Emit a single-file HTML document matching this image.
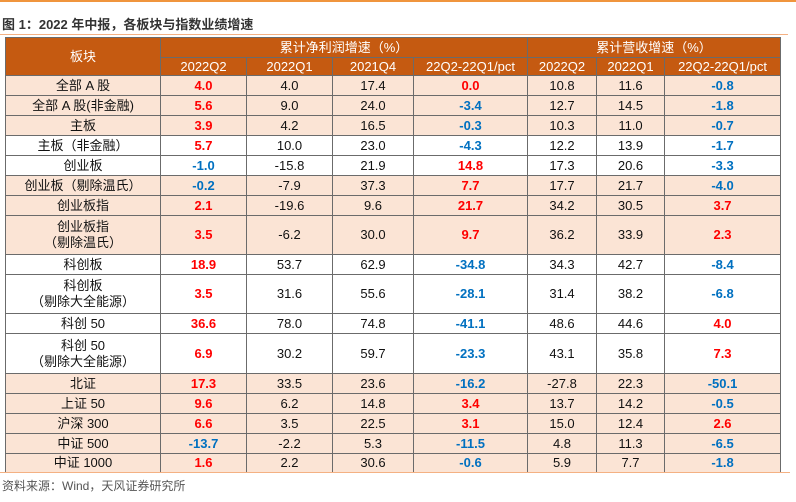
<!DOCTYPE html>
<html><head><meta charset="utf-8">
<style>
body{margin:0;width:796px;height:502px;background:#fff;position:relative;overflow:hidden;font-family:"Liberation Sans","Noto Sans CJK SC",sans-serif;}
.topline{position:absolute;left:0;top:0;width:796px;height:2px;background:#f0953e;}
.title{position:absolute;left:2px;top:14px;font-size:13px;font-weight:bold;color:#333;}
.tline{position:absolute;left:0;top:34px;width:788px;height:1px;background:#f4b183;}
table{position:absolute;left:5px;top:37px;border-collapse:collapse;table-layout:fixed;width:775px;font-size:13px;}
td{border:1px solid #6b6b6b;text-align:center;padding:0;line-height:16px;color:#111;}
tr.h td{background:#c55a11;color:#fff;}
tr.p td{background:#fbe4d5;}
tr.w td{background:#fff;}
.r{color:#ff0000;font-weight:bold;}
.b{color:#0070c0;font-weight:bold;}
.src{position:absolute;left:2px;top:477px;font-size:12px;color:#555;}
.bline{position:absolute;left:0;top:472px;width:790px;height:1px;background:#f4b183;}
</style></head><body>
<div class="topline"></div>
<div class="title">图 1：2022 年中报，各板块与指数业绩增速</div>
<div class="tline"></div>
<table>
<colgroup><col style="width:155px"><col style="width:86px"><col style="width:86px"><col style="width:81px"><col style="width:114px"><col style="width:69px"><col style="width:68px"><col style="width:116px"></colgroup>
<tbody id="tb">
<tr class="h" style="height:20px"><td rowspan="2">板块</td><td colspan="4">累计净利润增速（%）</td><td colspan="3">累计营收增速（%）</td></tr>
<tr class="h" style="height:18px"><td>2022Q2</td><td>2022Q1</td><td>2021Q4</td><td>22Q2-22Q1/pct</td><td>2022Q2</td><td>2022Q1</td><td>22Q2-22Q1/pct</td></tr>
</tbody></table>
<div class="bline"></div>
<div class="src">资料来源：Wind，天风证券研究所</div>
<script>
const names=["全部 A 股","全部 A 股(非金融)","主板","主板（非金融）","创业板","创业板（剔除温氏）","创业板指","创业板指<br>（剔除温氏）","科创板","科创板<br>（剔除大全能源）","科创 50","科创 50<br>（剔除大全能源）","北证","上证 50","沪深 300","中证 500","中证 1000"];
const profitQ2=["4.0","5.6","3.9","5.7","-1.0","-0.2","2.1","3.5","18.9","3.5","36.6","6.9","17.3","9.6","6.6","-13.7","1.6"];
const profitQ1=["4.0","9.0","4.2","10.0","-15.8","-7.9","-19.6","-6.2","53.7","31.6","78.0","30.2","33.5","6.2","3.5","-2.2","2.2"];
const profit4=["17.4","24.0","16.5","23.0","21.9","37.3","9.6","30.0","62.9","55.6","74.8","59.7","23.6","14.8","22.5","5.3","30.6"];
const profitD=["0.0","-3.4","-0.3","-4.3","14.8","7.7","21.7","9.7","-34.8","-28.1","-41.1","-23.3","-16.2","3.4","3.1","-11.5","-0.6"];
const revQ2=["10.8","12.7","10.3","12.2","17.3","17.7","34.2","36.2","34.3","31.4","48.6","43.1","-27.8","13.7","15.0","4.8","5.9"];
const revQ1=["11.6","14.5","11.0","13.9","20.6","21.7","30.5","33.9","42.7","38.2","44.6","35.8","22.3","14.2","12.4","11.3","7.7"];
const revD=["-0.8","-1.8","-0.7","-1.7","-3.3","-4.0","3.7","2.3","-8.4","-6.8","4.0","7.3","-50.1","-0.5","2.6","-6.5","-1.8"];
const heights=[20,20,20,20,20,20,20,39,20,39,20,40,20,20,20,20,19];
const shade=[1,1,1,0,0,1,1,1,0,0,0,0,1,1,1,1,1];
const tb=document.getElementById('tb');
const cls=v=>parseFloat(v)<0?'b':'r';
for(let i=0;i<names.length;i++){
  const tr=document.createElement('tr');
  
  
  tr.className=shade[i]?'p':'w';
  tr.style.height=heights[i]+'px';
  const cells=[[names[i],''],[profitQ2[i],cls(profitQ2[i])],[profitQ1[i],''],[profit4[i],''],[profitD[i],cls(profitD[i])],[revQ2[i],''],[revQ1[i],''],[revD[i],cls(revD[i])]];
  cells.forEach((c,j)=>{
    const td=document.createElement('td');
    
    
    td.innerHTML=c[0];
    if(c[1])td.className=c[1];
    tr.appendChild(td);
  });
  tb.appendChild(tr);
}
</script>
</body></html>
